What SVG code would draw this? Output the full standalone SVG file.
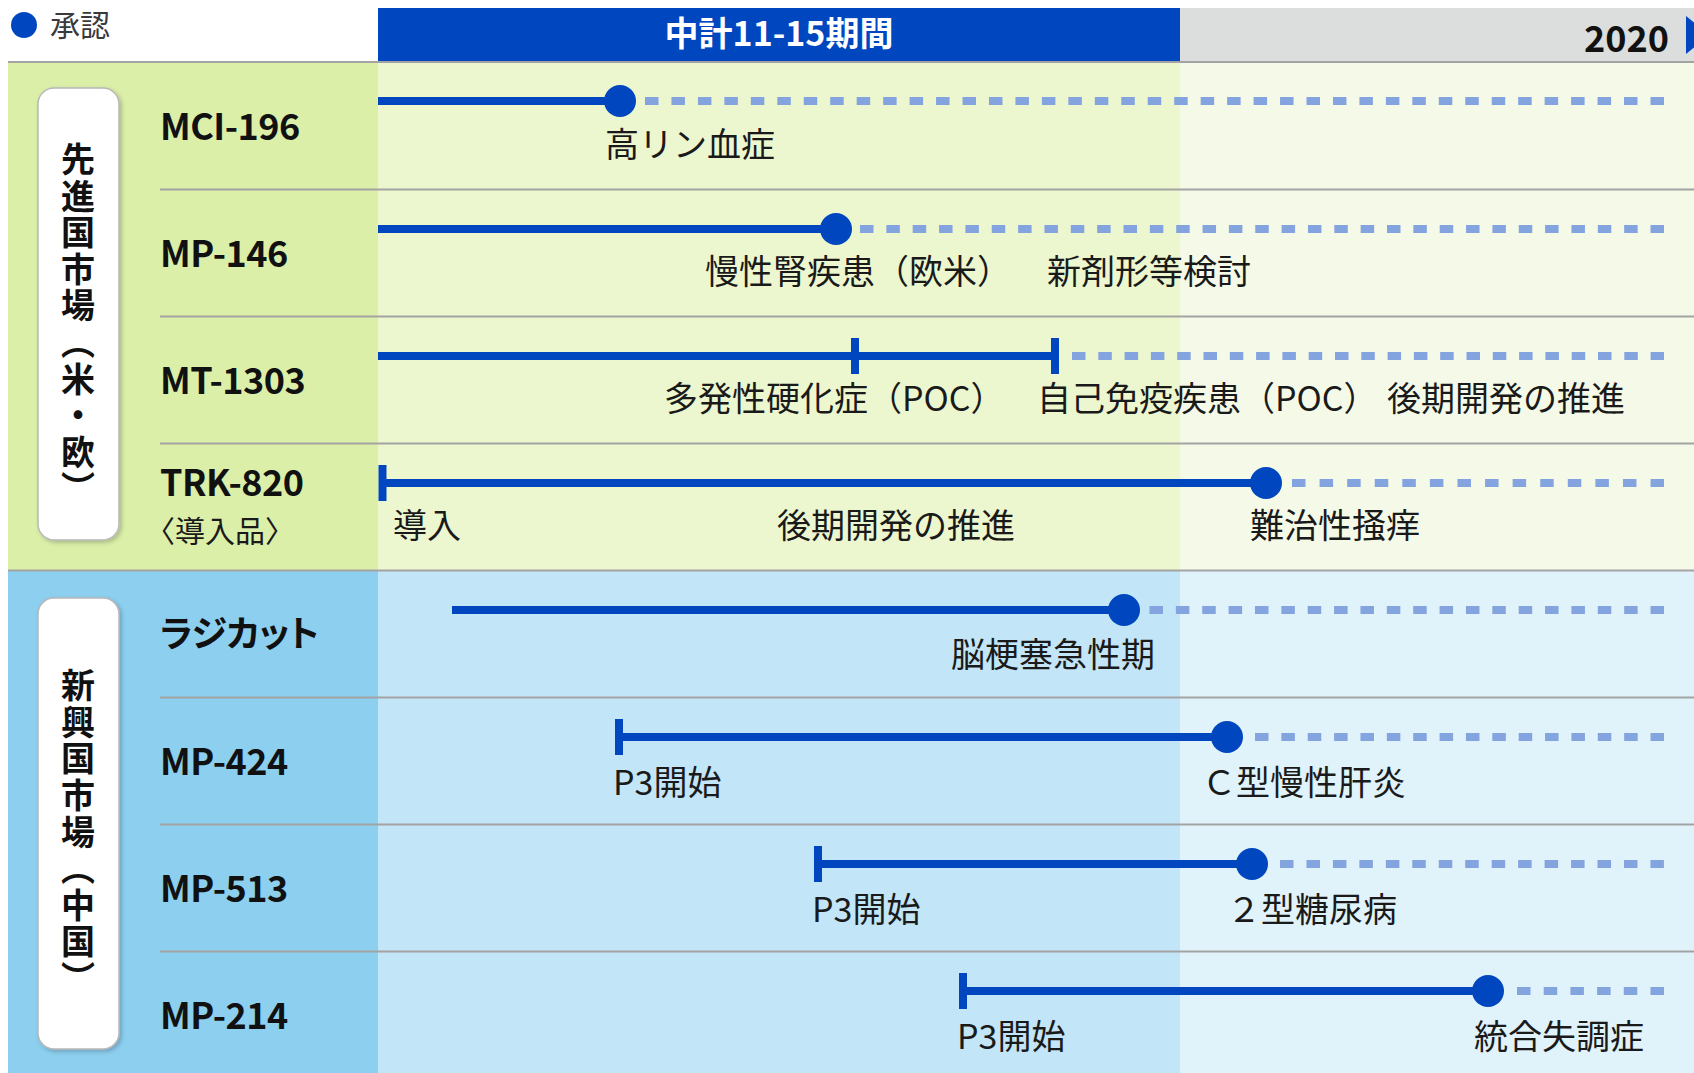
<svg xmlns="http://www.w3.org/2000/svg" width="1694" height="1073" viewBox="0 0 1694 1073">
<style>
text{font-family:"Noto Sans CJK JP","Noto Sans",sans-serif}
.rl{font-size:36px;font-weight:700;fill:#111;letter-spacing:-0.5px}
.ml{font-size:34px;fill:#1a1a1a}
.vt{font-size:34px;font-weight:700;fill:#111;writing-mode:vertical-rl;letter-spacing:2.6px}
.sep{stroke:#A3A3A3;stroke-width:1.8}
.solid{stroke:#0047BF;stroke-width:8;fill:none}
.tick{fill:#0047BF}
.dot{fill:#0047BF}
.dash{stroke:#84A4E0;stroke-width:8;fill:none}
.box{fill:#FFFFFF;stroke:#B8B8B8;stroke-width:1.5}
</style>
<defs>
<filter id="sh" x="-20%" y="-5%" width="140%" height="110%">
<feDropShadow dx="2" dy="2" stdDeviation="2" flood-color="#000" flood-opacity="0.22"/>
</filter>
</defs>
<rect width="1694" height="1073" fill="#FFFFFF"/>
<g id="header">
<rect x="378" y="8" width="802" height="54" fill="#0047BF"/>
<rect x="1180" y="8" width="514" height="54" fill="#DCDDDD"/>
<text x="779" y="46" text-anchor="middle" font-size="34" font-weight="700" fill="#FFFFFF">中計11-15期間</text>
<text x="1669" y="52" text-anchor="end" font-size="36" font-weight="700" fill="#111">2020</text>
<polygon points="1686,16 1709,35 1686,54" fill="#0047BF"/>
</g>
<g id="legend">
<circle cx="24" cy="25" r="13" fill="#0047BF"/>
<text x="50" y="36" font-size="30" fill="#3A3A3A">承認</text>
</g>
<g id="backgrounds">
<rect x="8" y="62" width="370" height="508" fill="#DBEFA9"/>
<rect x="378" y="62" width="802" height="508" fill="#EDF7CF"/>
<rect x="1180" y="62" width="514" height="508" fill="#F5FAE8"/>
<rect x="8" y="570" width="370" height="503" fill="#8DCFEF"/>
<rect x="378" y="570" width="802" height="503" fill="#C2E5F7"/>
<rect x="1180" y="570" width="514" height="503" fill="#E0F2FA"/>
</g>
<g id="separators">
<line class="sep" x1="8" y1="62" x2="1694" y2="62"/>
<line class="sep" x1="160" y1="189.5" x2="1694" y2="189.5"/>
<line class="sep" x1="160" y1="316.5" x2="1694" y2="316.5"/>
<line class="sep" x1="160" y1="443.5" x2="1694" y2="443.5"/>
<line class="sep" x1="8" y1="570.5" x2="1694" y2="570.5"/>
<line class="sep" x1="160" y1="697.5" x2="1694" y2="697.5"/>
<line class="sep" x1="160" y1="824.5" x2="1694" y2="824.5"/>
<line class="sep" x1="160" y1="951.5" x2="1694" y2="951.5"/>
</g>
<g id="group-advanced">
<rect class="box" x="38" y="88" width="81" height="452" rx="16" filter="url(#sh)"/>
<text class="vt" x="78" y="325" text-anchor="middle">先進国市場（米・欧）</text>
</g>
<g id="group-emerging">
<rect class="box" x="38" y="598" width="81" height="451" rx="16" filter="url(#sh)"/>
<text class="vt" x="78" y="833" text-anchor="middle">新興国市場（中国）</text>
</g>
<g id="connectors">
<line class="solid" x1="378" y1="101" x2="620" y2="101"/>
<line class="dash" x1="645" y1="101" x2="1664" y2="101" stroke-dasharray="13.5 12.96"/>
<line class="solid" x1="378" y1="229" x2="836" y2="229"/>
<line class="dash" x1="860" y1="229" x2="1664" y2="229" stroke-dasharray="13.5 12.85"/>
<line class="solid" x1="378" y1="356" x2="1055" y2="356"/>
<line class="dash" x1="1072" y1="356" x2="1664" y2="356" stroke-dasharray="13.5 12.8"/>
<line class="solid" x1="382" y1="483" x2="1266" y2="483"/>
<line class="dash" x1="1292" y1="483" x2="1664" y2="483" stroke-dasharray="13.5 14.08"/>
<line class="solid" x1="452" y1="610" x2="1124" y2="610"/>
<line class="dash" x1="1149.5" y1="610" x2="1664" y2="610" stroke-dasharray="13.5 12.87"/>
<line class="solid" x1="619" y1="737" x2="1227" y2="737"/>
<line class="dash" x1="1255" y1="737" x2="1664" y2="737" stroke-dasharray="13.5 12.87"/>
<line class="solid" x1="818" y1="864" x2="1252" y2="864"/>
<line class="dash" x1="1280" y1="864" x2="1664" y2="864" stroke-dasharray="13.5 12.96"/>
<line class="solid" x1="963" y1="991" x2="1488" y2="991"/>
<line class="dash" x1="1517" y1="991" x2="1664" y2="991" stroke-dasharray="13.5 13.2"/>
</g>
<g id="row-MCI-196">
<text class="rl" x="160" y="140">MCI-196</text>
<circle class="dot" cx="620" cy="101" r="16"/>
<text class="ml" x="605" y="157">高リン血症</text>
</g>
<g id="row-MP-146">
<text class="rl" x="160" y="267">MP-146</text>
<circle class="dot" cx="836" cy="229" r="16"/>
<text class="ml" x="705" y="284">慢性腎疾患（欧米）</text>
<text class="ml" x="1047" y="284">新剤形等検討</text>
</g>
<g id="row-MT-1303">
<text class="rl" x="160" y="394">MT-1303</text>
<rect class="tick" x="851" y="338" width="8" height="36"/>
<rect class="tick" x="1051" y="338" width="8" height="36"/>
<text class="ml" x="664" y="411">多発性硬化症（POC）</text>
<text class="ml" x="1037" y="411">自己免疫疾患（POC）</text>
<text class="ml" x="1387" y="411">後期開発の推進</text>
</g>
<g id="row-TRK-820">
<text class="rl" x="160" y="496">TRK-820</text>
<text x="145" y="542" font-size="30" fill="#1a1a1a">〈導入品〉</text>
<rect class="tick" x="378.5" y="465" width="8" height="36"/>
<circle class="dot" cx="1266" cy="483" r="16"/>
<text class="ml" x="393" y="538">導入</text>
<text class="ml" x="777" y="538">後期開発の推進</text>
<text class="ml" x="1250" y="538">難治性掻痒</text>
</g>
<g id="row-radicut">
<text class="rl" x="160" y="647" style="font-feature-settings:'palt'">ラジカット</text>
<circle class="dot" cx="1124" cy="610" r="16"/>
<text class="ml" x="951" y="667">脳梗塞急性期</text>
</g>
<g id="row-MP-424">
<text class="rl" x="160" y="775">MP-424</text>
<rect class="tick" x="615" y="719" width="8" height="36"/>
<circle class="dot" cx="1227" cy="737" r="16"/>
<text class="ml" x="613" y="795">P3開始</text>
<text class="ml" x="1202" y="795">Ｃ型慢性肝炎</text>
</g>
<g id="row-MP-513">
<text class="rl" x="160" y="902">MP-513</text>
<rect class="tick" x="814" y="846" width="8" height="36"/>
<circle class="dot" cx="1252" cy="864" r="16"/>
<text class="ml" x="812" y="922">P3開始</text>
<text class="ml" x="1227" y="922">２型糖尿病</text>
</g>
<g id="row-MP-214">
<text class="rl" x="160" y="1029">MP-214</text>
<rect class="tick" x="959" y="973" width="8" height="36"/>
<circle class="dot" cx="1488" cy="991" r="16"/>
<text class="ml" x="957" y="1049">P3開始</text>
<text class="ml" x="1474" y="1049">統合失調症</text>
</g>
</svg>
